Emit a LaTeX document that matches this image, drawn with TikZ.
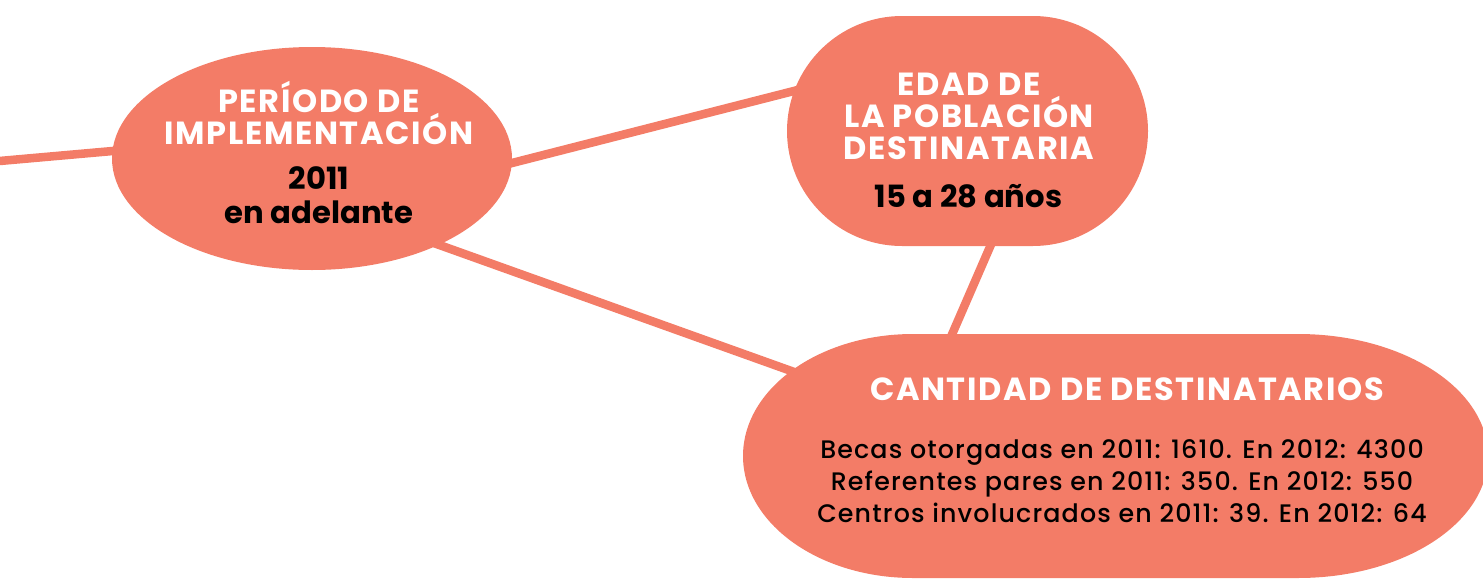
\documentclass[tikz,border=0pt]{standalone}
\usepackage{fontspec}
\setmainfont{Poppins}
\newfontfamily\headfont{Poppins Bold}[LetterSpace=5]
\newfontfamily\valuefont{Poppins Bold}
\newfontfamily\bodyfont{Poppins Medium}[LetterSpace=4.5]
\usetikzlibrary{shapes.geometric,shapes.misc}

\definecolor{salmon}{RGB}{243,124,103}

\pgfdeclarelayer{background}
\pgfsetlayers{background,main}

\tikzset{
  blob/.style={fill=salmon, draw=none, inner sep=0pt},
  link/.style={draw=salmon, line width=6.4pt},
  head/.style={text=white, align=center, font=\headfont\fontsize{24}{24}\selectfont},
  value/.style={text=black, align=center, font=\valuefont\fontsize{23}{25.5}\selectfont},
  body/.style={text=black, align=center, font=\bodyfont\fontsize{19}{24}\selectfont},
}

\begin{document}
\begin{tikzpicture}[x=0.75pt, y=-0.75pt]
  \def\px{0.75pt} % one pixel of the page

  \useasboundingbox (0,0) rectangle (1483,578);
  \clip (0,0) rectangle (1483,578);

  % Blobs
  \node[blob, ellipse, minimum width=400*\px, minimum height=223*\px] (periodo) at (312,158.5) {};
  \node[blob, rounded rectangle, minimum width=361*\px, minimum height=230*\px] (edad) at (967.5,131) {};
  \node[inner sep=0pt] (cantidad) at (1115,456) {};
  \fill[salmon] ([shift={(-202,-122)}]cantidad.center) -- ([shift={(183,-122)}]cantidad.center)
    arc[start angle=-90, end angle=90, x radius=190, y radius=122]
    -- ([shift={(-202,122)}]cantidad.center)
    arc[start angle=90, end angle=270, x radius=170, y radius=122] -- cycle;

  % Texts
  \node[head] (periodoHead) at (319,113) {PERÍODO DE\\IMPLEMENTACIÓN};
  \node[value] (periodoVal) at (319,195) {2011\\en adelante};
  \node[head] (edadHead) at (969,116) {EDAD DE\\LA POBLACIÓN\\DESTINATARIA};
  \node[value, anchor=base] (edadVal) at (968.5,207) {15 a 28 años};
  \node[head, anchor=base] (cantHead) at (1127,400) {CANTIDAD DE DESTINATARIOS};
  \node[body] (cantBody) at (1122,481) {Becas otorgadas en 2011: 1610. En 2012: 4300\\
    Referentes pares en 2011: 350. En 2012: 550\\
    Centros involucrados en 2011: 39. En 2012: 64};

  % Links, behind the blobs
  \coordinate (edgeL) at (-5,161.4);
  \begin{pgfonlayer}{background}
    \draw[link] (edgeL) -- ([shift={(-112,-15.2)}]periodo.center);
    \draw[link] ([shift={(128,22.9)}]periodo.center) -- ([shift={(-107.5,-56.9)}]edad.center);
    \draw[link] ([shift={(88,72.4)}]periodo.center) -- ([shift={(-255,-60.4)}]cantidad.center);
    \draw[link] ([shift={(42.8,69)}]edad.center) -- ([shift={(-187.1,-66)}]cantidad.center);
  \end{pgfonlayer}
\end{tikzpicture}
\end{document}
